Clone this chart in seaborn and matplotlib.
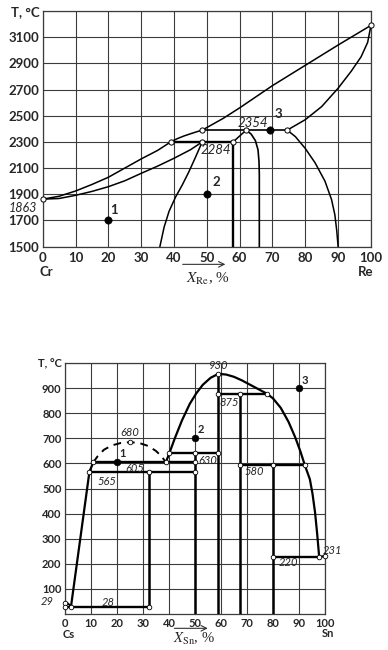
import matplotlib
matplotlib.use('Agg')
import matplotlib.pyplot as plt
import seaborn as sns

# ---------- Cr - Re (верхняя диаграмма) ----------
re_xticks = [0, 10, 20, 30, 40, 50, 60, 70, 80, 90, 100]
re_yticks = [1500, 1700, 1900, 2100, 2300, 2500, 2700, 2900, 3100, 3300]
re_ylabels = ['1500', '1700', '1900', '2100', '2300', '2500', '2700', '2900', '3100', 'T, °C']

re_liq1_x = [0, 5, 10, 15, 20, 25, 30, 35, 39]
re_liq1_t = [1863, 1885, 1925, 1975, 2030, 2100, 2170, 2235, 2300]
re_liq2_x = [39, 41, 43, 45, 47, 48.6]
re_liq2_t = [2300, 2325, 2345, 2362, 2378, 2390]
re_liq3_x = [48.6, 55, 60, 70, 80, 90, 100]
re_liq3_t = [2390, 2480, 2560, 2730, 2885, 3040, 3190]
re_sol_cr_x = [0, 5, 10, 15, 20, 25, 30, 35, 40, 45, 48.6]
re_sol_cr_t = [1863, 1868, 1892, 1922, 1958, 2003, 2060, 2115, 2175, 2240, 2300]
re_solv_cr_x = [48.6, 46.5, 44.5, 42.5, 40.5, 38.5, 37, 35.7]
re_solv_cr_t = [2300, 2180, 2070, 1970, 1880, 1770, 1650, 1500]
re_sig_l_x = [62, 58, 58]
re_sig_l_t = [2390, 2300, 1500]
re_sig_r_x = [62, 63.5, 64.8, 65.6, 65.9, 66, 66]
re_sig_r_t = [2390, 2360, 2310, 2240, 2150, 2050, 1500]
re_sol_re_x = [74.5, 80, 85, 90, 94, 97, 99, 100]
re_sol_re_t = [2390, 2470, 2570, 2710, 2840, 2950, 3060, 3190]
re_solv_re_x = [74.5, 77, 80, 83, 86, 88, 89, 89.6, 90]
re_solv_re_t = [2390, 2340, 2250, 2140, 2000, 1860, 1745, 1620, 1500]
re_per1_x = [39, 58]
re_per1_t = [2300, 2300]
re_per2_x = [48.6, 74.5]
re_per2_t = [2390, 2390]
re_nodes_x = [0, 39, 48.6, 58, 48.6, 62, 74.5, 100]
re_nodes_t = [1863, 2300, 2300, 2300, 2390, 2390, 2390, 3190]
re_pts_x = [20, 50, 69.2]
re_pts_t = [1700, 1900, 2390]
re_pts_lab = ['1', '2', '3']
re_pts_off = [(4, 7.5), (6.5, 8.5), (6.5, 11.5)]
re_notes = [('2354', 64, 2445), ('2284', 52.7, 2237)]

# ---------- Cs - Sn (нижняя диаграмма) ----------
sn_xticks = [0, 10, 20, 30, 40, 50, 60, 70, 80, 90, 100]
sn_yticks = [100, 200, 300, 400, 500, 600, 700, 800, 900, 1000]
sn_ylabels = ['100', '200', '300', '400', '500', '600', '700', '800', '900', 'T, °C']

sn_cs_x = [0, 1, 1.8, 2.3]
sn_cs_t = [45, 42, 35, 28]
sn_liq1_x = [2.3, 9.4, 10.9]
sn_liq1_t = [28, 567, 605]
sn_dash_x = [10.9, 12.5, 15, 18, 21.5, 25, 28.5, 32, 35, 37.2, 38.8]
sn_dash_t = [605, 628, 655, 672, 682, 685, 682, 670, 650, 628, 605]
sn_liq2_x = [38.8, 40.1, 42.3, 45, 48, 50.5, 53, 56, 59]
sn_liq2_t = [605, 640, 702, 772, 838, 880, 914, 942, 958]
sn_liq3_x = [59, 62, 65, 68, 72, 77.6, 80, 83, 86, 88.5, 90.5, 92.3, 94.2, 95.2, 96.2, 97, 97.8, 100]
sn_liq3_t = [958, 955, 946, 932, 910, 879, 860, 822, 766, 706, 650, 592, 537, 480, 404, 320, 225, 232]
sn_h_lines = [([0, 32.3], 28), ([9.4, 50], 567), ([10.9, 50], 605), ([40.1, 59], 640),
              ([59, 77.6], 879), ([67.3, 92.3], 592), ([80, 97.8], 225)]
sn_v_lines = [(32.3, [28, 567]), (50, [0, 640]), (59, [0, 958]), (67.3, [0, 879]), (80, [0, 592])]
sn_nodes_x = [0, 0, 2.3, 32.3, 9.4, 32.3, 50, 10.9, 50, 38.8, 25, 40.1, 50, 59,
              59, 59, 67.3, 77.6, 67.3, 80, 92.3, 80, 97.8, 100]
sn_nodes_t = [45, 28, 28, 28, 567, 567, 567, 605, 605, 605, 685, 640, 640, 640,
              958, 879, 879, 879, 592, 592, 592, 225, 225, 232]
sn_pts_x = [20, 50, 90]
sn_pts_t = [605, 700, 900]
sn_pts_lab = ['1', '2', '3']
sn_pts_off = [(3.7, 6.3), (4.3, 6.3), (4.3, 5.7)]
sn_notes = [('680', 25, 725), ('605', 26.8, 580), ('565', 16.2, 528), ('630', 55, 611),
            ('930', 59, 992), ('875', 63.2, 845), ('580', 73, 567), ('220', 85.9, 203),
            ('231', 103, 253), ('29', -7, 50), ('28', 16.7, 46)]

sns.set_style('white')
plt.rcParams['font.family'] = ['Lato', 'DejaVu Sans']
plt.rcParams['mathtext.fontset'] = 'stix'

fig = plt.figure(figsize=(3.88, 6.5), dpi=100)
ax1 = fig.add_axes([0.110, 0.6205, 0.846, 0.3626])
ax2 = fig.add_axes([0.1675, 0.0557, 0.670, 0.3854])


def curve(ax, x, y, lw=1.1, ls='-'):
    sns.lineplot(x=x, y=y, ax=ax, color='black', linewidth=lw, linestyle=ls,
                 estimator=None, sort=False, legend=False, zorder=3)


def setup(ax, xticks, yticks, ylabels, ylim, fs):
    ax.set_xlim(0, 100)
    ax.set_ylim(*ylim)
    ax.set_xticks(xticks)
    ax.set_yticks(yticks)
    ax.set_yticklabels(ylabels)
    ax.tick_params(length=0, labelsize=fs, pad=2.5)
    for lab in ax.get_xticklabels() + ax.get_yticklabels():
        lab.set_fontweight('bold')
    ax.grid(True, color='#3c3c3c', linewidth=0.8)
    ax.set_axisbelow(True)
    for s in ax.spines.values():
        s.set_color('#3c3c3c')
        s.set_linewidth(0.9)
    ax.set_xlabel('')
    ax.set_ylabel('')


# верхняя диаграмма
setup(ax1, re_xticks, re_yticks, re_ylabels, (1500, 3300), 9.5)
ax1.tick_params(axis='x', pad=4)
curve(ax1, re_liq1_x, re_liq1_t)
curve(ax1, re_liq2_x, re_liq2_t)
curve(ax1, re_liq3_x, re_liq3_t)
curve(ax1, re_sol_cr_x, re_sol_cr_t)
curve(ax1, re_solv_cr_x, re_solv_cr_t)
curve(ax1, re_sig_l_x[:2], re_sig_l_t[:2])
curve(ax1, re_sig_l_x[1:], re_sig_l_t[1:], lw=1.7)
curve(ax1, re_sig_r_x, re_sig_r_t, lw=1.2)
curve(ax1, re_sol_re_x, re_sol_re_t)
curve(ax1, re_solv_re_x, re_solv_re_t)
curve(ax1, re_per1_x, re_per1_t, lw=1.7)
curve(ax1, re_per2_x, re_per2_t, lw=1.2)
sns.scatterplot(x=re_nodes_x, y=re_nodes_t, ax=ax1, s=14, color='white',
                edgecolor='black', linewidth=0.7, zorder=5, legend=False, clip_on=False)
sns.scatterplot(x=re_pts_x, y=re_pts_t, ax=ax1, s=28, color='black',
                edgecolor='black', zorder=6, legend=False)
for x, t, lab, off in zip(re_pts_x, re_pts_t, re_pts_lab, re_pts_off):
    ax1.annotate(lab, (x, t), xytext=off, textcoords='offset points',
                 ha='center', va='center', fontsize=9.5, fontweight='bold')
for txt, x, t in re_notes:
    ax1.text(x, t, txt, ha='center', va='center', fontsize=9.5, style='italic', zorder=4)
ax1.text(-5.9, 1795, '1863', ha='center', va='center', fontsize=9,
         style='italic', clip_on=False)
ax1.text(1.2, -0.106, 'Cr', transform=ax1.get_xaxis_transform(), ha='center',
         va='center', fontsize=9.5, fontweight='bold')
ax1.text(98.5, -0.106, 'Re', transform=ax1.get_xaxis_transform(), ha='center',
         va='center', fontsize=9.5, fontweight='bold')
ax1.text(50.5, -0.136, r'$X_{\mathrm{Re}}$, %', transform=ax1.get_xaxis_transform(),
         ha='center', va='center', fontsize=11, family='Liberation Serif')
ax1.annotate('', xy=(56.5, -0.075), xytext=(41.8, -0.075), xycoords=ax1.get_xaxis_transform(),
             arrowprops=dict(arrowstyle='->', color='#333333', lw=0.8))

# нижняя диаграмма
setup(ax2, sn_xticks, sn_yticks, sn_ylabels, (0, 1000), 8)
ax2.tick_params(axis='x', pad=3)
curve(ax2, sn_cs_x, sn_cs_t, lw=1.4)
curve(ax2, sn_liq1_x, sn_liq1_t, lw=1.6)
curve(ax2, sn_dash_x, sn_dash_t, lw=1.4, ls=(0, (4, 3)))
curve(ax2, sn_liq2_x, sn_liq2_t, lw=1.6)
curve(ax2, sn_liq3_x, sn_liq3_t, lw=1.6)
for xs, t in sn_h_lines:
    curve(ax2, xs, [t, t], lw=1.7)
for x, ts in sn_v_lines:
    curve(ax2, [x, x], ts, lw=1.8)
sns.scatterplot(x=sn_nodes_x, y=sn_nodes_t, ax=ax2, s=11, color='white',
                edgecolor='black', linewidth=0.6, zorder=5, legend=False, clip_on=False)
sns.scatterplot(x=sn_pts_x, y=sn_pts_t, ax=ax2, s=24, color='black',
                edgecolor='black', zorder=6, legend=False)
for x, t, lab, off in zip(sn_pts_x, sn_pts_t, sn_pts_lab, sn_pts_off):
    ax2.annotate(lab, (x, t), xytext=off, textcoords='offset points',
                 ha='center', va='center', fontsize=8, fontweight='bold')
for txt, x, t in sn_notes:
    ax2.text(x, t, txt, ha='center', va='center', fontsize=8, style='italic',
             clip_on=False, zorder=4)
ax2.text(1.3, -0.082, 'Cs', transform=ax2.get_xaxis_transform(), ha='center',
         va='center', fontsize=8, fontweight='bold')
ax2.text(101, -0.080, 'Sn', transform=ax2.get_xaxis_transform(), ha='center',
         va='center', fontsize=8, fontweight='bold')
ax2.text(49.7, -0.101, r'$X_{\mathrm{Sn}}$, %', transform=ax2.get_xaxis_transform(),
         ha='center', va='center', fontsize=10.5, family='Liberation Serif')
ax2.annotate('', xy=(56, -0.058), xytext=(41, -0.058), xycoords=ax2.get_xaxis_transform(),
             arrowprops=dict(arrowstyle='->', color='#333333', lw=0.8))

fig.savefig('out.png', dpi=100)
